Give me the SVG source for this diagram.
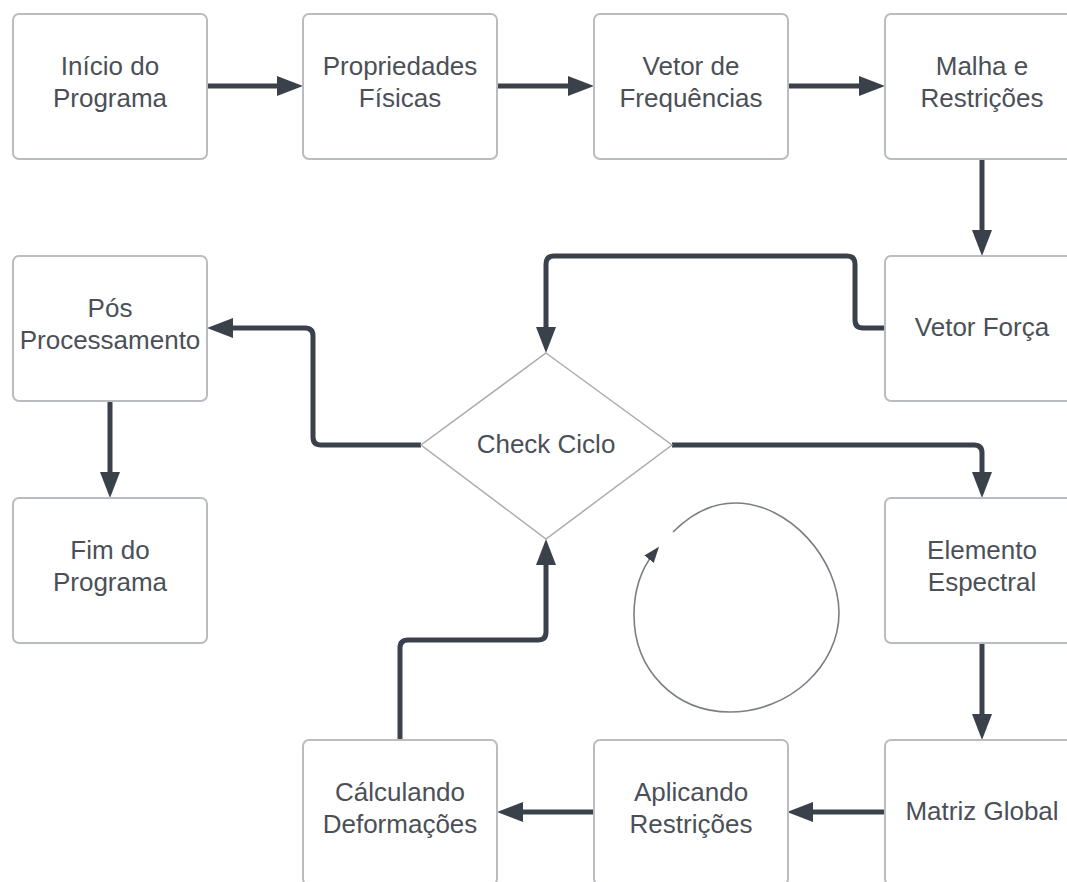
<svg xmlns="http://www.w3.org/2000/svg" width="1067" height="882" viewBox="0 0 1067 882">
<style>
.box{fill:#ffffff;stroke:#b9bcc1;stroke-width:2}
.dia{fill:#ffffff;stroke:#a9acb1;stroke-width:1.5}
.t{font-family:"Liberation Sans",Arial,sans-serif;font-size:26px;fill:#4b5058;text-anchor:middle}
.c{fill:none;stroke:#3a414b;stroke-width:5;stroke-linejoin:round}
.loop{fill:none;stroke:#7a7e85;stroke-width:1.6}
</style>
<defs>
<marker id="ah" viewBox="0 0 26 20" refX="12" refY="10" markerWidth="26" markerHeight="20" markerUnits="userSpaceOnUse" orient="auto">
<path d="M0,0 L26,10 L0,20 z" fill="#3a414b"/>
</marker>
<marker id="ahs" viewBox="0 0 16 12" refX="8" refY="6" markerWidth="16" markerHeight="12" markerUnits="userSpaceOnUse" orient="auto">
<path d="M0,0 L16,6 L0,12 z" fill="#3a414b"/>
</marker>
</defs>
<rect width="1067" height="882" fill="#ffffff"/>
<g id="connectors">
<path class="c" d="M207,86 H289" marker-end="url(#ah)"/>
<path class="c" d="M497,86 H580" marker-end="url(#ah)"/>
<path class="c" d="M787,86 H871" marker-end="url(#ah)"/>
<path class="c" d="M982,158 V242" marker-end="url(#ah)"/>
<path class="c" d="M885,328 H863 Q855,328 855,320 V264 Q855,256 847,256 H554 Q546,256 546,264 V339" marker-end="url(#ah)"/>
<path class="c" d="M421,445 H321 Q313,445 313,437 V336 Q313,328 305,328 H221" marker-end="url(#ah)"/>
<path class="c" d="M110,402 V484" marker-end="url(#ah)"/>
<path class="c" d="M672,445 H974 Q982,445 982,453 V484" marker-end="url(#ah)"/>
<path class="c" d="M982,642 V726" marker-end="url(#ah)"/>
<path class="c" d="M885,812 H801" marker-end="url(#ah)"/>
<path class="c" d="M594,812 H511" marker-end="url(#ah)"/>
<path class="c" d="M400,740 V648 Q400,640 408,640 H538 Q546,640 546,632 V553" marker-end="url(#ah)"/>
<path class="loop" d="M673,532 C690,515 710,503 735,503 C790,503 839,560 839,613 C839,665 790,712 730,712 C675,712 634,670 634,615 C634,588 642,568 654,553" marker-end="url(#ahs)"/>
</g>
<g id="inicio"><rect class="box" x="13" y="14" width="194" height="145" rx="6"/><text class="t" x="110" y="75">Início do</text><text class="t" x="110" y="107">Programa</text></g>
<g id="propriedades"><rect class="box" x="303" y="14" width="194" height="145" rx="6"/><text class="t" x="400" y="75">Propriedades</text><text class="t" x="400" y="107">Físicas</text></g>
<g id="frequencias"><rect class="box" x="594" y="14" width="194" height="145" rx="6"/><text class="t" x="691" y="75">Vetor de</text><text class="t" x="691" y="107">Frequências</text></g>
<g id="malha"><rect class="box" x="885" y="14" width="194" height="145" rx="6"/><text class="t" x="982" y="75">Malha e</text><text class="t" x="982" y="107">Restrições</text></g>
<g id="vetorforca"><rect class="box" x="885" y="256" width="194" height="145" rx="6"/><text class="t" x="982" y="336">Vetor Força</text></g>
<g id="pos"><rect class="box" x="13" y="256" width="194" height="145" rx="6"/><text class="t" x="110" y="317">Pós</text><text class="t" x="110" y="349">Processamento</text></g>
<g id="check"><polygon class="dia" points="546,353 672,445 546,539 421,445"/><text class="t" x="546" y="453">Check Ciclo</text></g>
<g id="fim"><rect class="box" x="13" y="498" width="194" height="145" rx="6"/><text class="t" x="110" y="559">Fim do</text><text class="t" x="110" y="591">Programa</text></g>
<g id="elemento"><rect class="box" x="885" y="498" width="194" height="145" rx="6"/><text class="t" x="982" y="559">Elemento</text><text class="t" x="982" y="591">Espectral</text></g>
<g id="calculando"><rect class="box" x="303" y="740" width="194" height="145" rx="6"/><text class="t" x="400" y="801">Cálculando</text><text class="t" x="400" y="833">Deformações</text></g>
<g id="aplicando"><rect class="box" x="594" y="740" width="194" height="145" rx="6"/><text class="t" x="691" y="801">Aplicando</text><text class="t" x="691" y="833">Restrições</text></g>
<g id="matriz"><rect class="box" x="885" y="740" width="194" height="145" rx="6"/><text class="t" x="982" y="820">Matriz Global</text></g>
</svg>
